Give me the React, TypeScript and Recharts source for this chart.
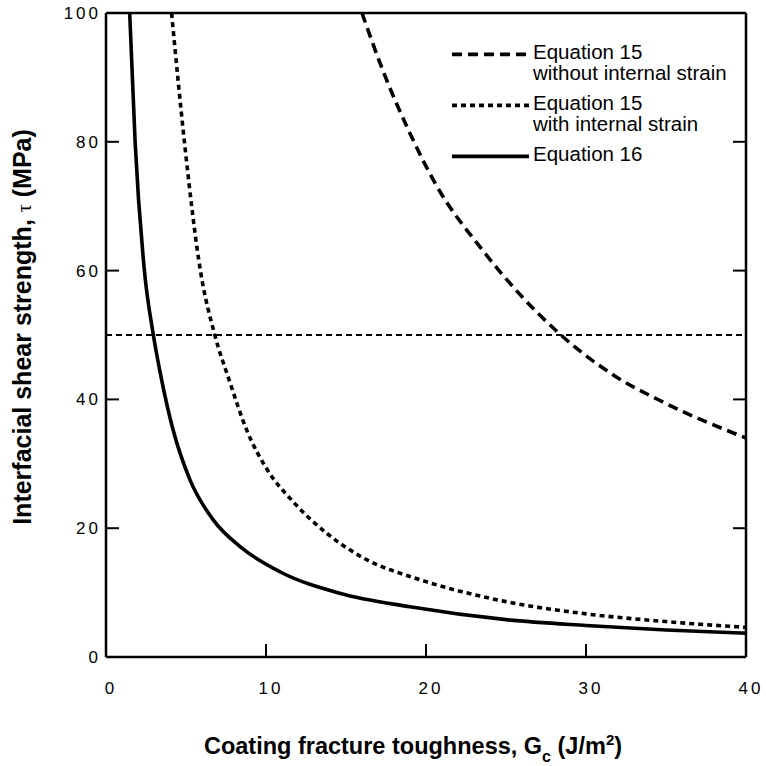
import React from "react";
import { LineChart, Line, XAxis, YAxis, ReferenceLine, Legend, Label } from "recharts";

// values
const gTicks = [0, 10, 20, 30, 40];
const tauTicks = [0, 20, 40, 60, 80, 100];
const tauLimit = 50;

const eq15NoStrainG = [16.0, 17.3, 19.0, 20.7, 23.4, 28.3, 31.7, 34.8, 40];
const eq15NoStrainTau = [100, 91.1, 81.3, 73.0, 63.6, 50.3, 43.8, 39.6, 34.0];

const eq15StrainG = [4.1, 4.9, 5.9, 6.8, 7.7, 8.8, 10.1, 11.7, 13.8, 16.3, 19.0, 20, 25, 30, 35, 40];
const eq15StrainTau = [100, 80, 60, 50, 43, 35.2, 29.0, 24.1, 19.2, 15.1, 12.5, 11.7, 8.6, 6.7, 5.5, 4.6];

const eq16G = [1.48, 1.82, 2.4, 2.96, 3.48, 4.2, 5.25, 6.7, 8.4, 10.9, 14.6, 19.0, 25, 30, 35, 40];
const eq16Tau = [100, 80, 60, 50, 43.0, 35.2, 27.5, 21.3, 17.1, 13.2, 9.9, 7.8, 5.8, 4.9, 4.2, 3.7];

const toRows = (g: number[], tau: number[]) => g.map((v, i) => ({ g: v, tau: tau[i] }));

const FONT = "'Liberation Sans', Arial, Helvetica, sans-serif";
const TICK_LEN = 13;

const series = [
  { key: "noStrain", lines: ["Equation 15", "without internal strain"], data: toRows(eq15NoStrainG, eq15NoStrainTau), dash: "10 6", width: 3.6 },
  { key: "strain", lines: ["Equation 15", "with internal strain"], data: toRows(eq15StrainG, eq15StrainTau), dash: "5 4", width: 3.6 },
  { key: "eq16", lines: ["Equation 16"], data: toRows(eq16G, eq16Tau), dash: undefined, width: 3.6 },
];

const renderLegend = () => (
  <div style={{ fontFamily: FONT, fontSize: 20.5, lineHeight: "21px", color: "#000" }}>
    {series.map((s) => (
      <div key={s.key} style={{ display: "flex", alignItems: "flex-start", marginBottom: 9 }}>
        <svg width={77} height={21} style={{ marginRight: 4, flex: "none" }}>
          <line x1={0} x2={77} y1={13.4} y2={13.4} stroke="#000" strokeWidth={s.width} strokeDasharray={s.dash} />
        </svg>
        <div>
          {s.lines.map((t) => (
            <div key={t} style={{ whiteSpace: "nowrap" }}>{t}</div>
          ))}
        </div>
      </div>
    ))}
  </div>
);

// ticks point into the plot, labels sit outside
const BottomTick = ({ x, y, payload }: any) => (
  <g>
    <line x1={x} x2={x} y1={y} y2={y - TICK_LEN} stroke="#000" strokeWidth={2} />
    <text x={x + 5} y={y + 37} textAnchor="middle" fontFamily={FONT} fontSize={17} letterSpacing={3} fill="#000">
      {payload.value}
    </text>
  </g>
);

const LeftTick = ({ x, y, payload }: any) => (
  <g>
    <line x1={x} x2={x + TICK_LEN} y1={y} y2={y} stroke="#000" strokeWidth={2} />
    <text x={x - 5} y={y + 6} textAnchor="end" fontFamily={FONT} fontSize={17} letterSpacing={3} fill="#000">
      {payload.value}
    </text>
  </g>
);

const TopTick = ({ x, y }: any) => <line x1={x} x2={x} y1={y} y2={y + TICK_LEN} stroke="#000" strokeWidth={2} />;

const RightTick = ({ x, y }: any) => <line x1={x} x2={x - TICK_LEN} y1={y} y2={y} stroke="#000" strokeWidth={2} />;

const XTitle = (props: any) => {
  const { viewBox } = props;
  const cx = viewBox.x + viewBox.width / 2 - 13;
  const y = viewBox.y + 97;
  return (
    <text x={cx} y={y} textAnchor="middle" fontFamily={FONT} fontWeight="bold" fontSize={23.5} fill="#000">
      Coating fracture toughness, G
      <tspan dy={8} fontSize={16}>c</tspan>
      <tspan dy={-8}> (J/m</tspan>
      <tspan dy={-9} fontSize={15}>2</tspan>
      <tspan dy={9}>)</tspan>
    </text>
  );
};

const YTitle = (props: any) => {
  const { viewBox } = props;
  const x = 31;
  const cy = viewBox.y + viewBox.height / 2 - 8;
  return (
    <text x={x} y={cy} textAnchor="middle" transform={`rotate(-90, ${x}, ${cy})`} fontFamily={FONT} fontWeight="bold" fontSize={25} fill="#000">
      Interfacial shear strength, <tspan fontWeight="normal" fontSize={20} fontFamily="'Liberation Serif', serif">τ</tspan> (MPa)
    </text>
  );
};

const axisLine = { stroke: "#000", strokeWidth: 2.5 };

export default function App() {
  return (
    <div style={{ position: "absolute", left: 0, top: 0, background: "#fff" }}>
      <LineChart width={766} height={766} margin={{ top: 0, right: 0, bottom: 0, left: 0 }}>
        <XAxis
          dataKey="g"
          type="number"
          domain={[0, 40]}
          ticks={gTicks}
          interval={0}
          height={109}
          tickSize={0}
          tickMargin={0}
          axisLine={axisLine}
          tickLine={false}
          tick={BottomTick}
          label={<Label content={XTitle} />}
        />
        <XAxis
          xAxisId="top"
          orientation="top"
          type="number"
          domain={[0, 40]}
          ticks={gTicks}
          interval={0}
          allowDataOverflow
          height={13}
          tickSize={0}
          tickMargin={0}
          axisLine={axisLine}
          tickLine={false}
          tick={TopTick}
        />
        <YAxis
          type="number"
          domain={[0, 100]}
          ticks={tauTicks}
          interval={0}
          width={106}
          tickSize={0}
          tickMargin={0}
          axisLine={axisLine}
          tickLine={false}
          tick={LeftTick}
          label={<Label content={YTitle} />}
        />
        <YAxis
          yAxisId="right"
          orientation="right"
          type="number"
          domain={[0, 100]}
          ticks={tauTicks}
          interval={0}
          allowDataOverflow
          width={20}
          tickSize={0}
          tickMargin={0}
          axisLine={axisLine}
          tickLine={false}
          tick={RightTick}
        />
        <ReferenceLine y={tauLimit} stroke="#000" strokeWidth={2} strokeDasharray="6 4" />
        {series.map((s) => (
          <Line
            key={s.key}
            data={s.data}
            dataKey="tau"
            name={s.lines.join(" ")}
            type="monotone"
            stroke="#000"
            strokeWidth={s.width}
            strokeDasharray={s.dash}
            dot={false}
            activeDot={false}
            isAnimationActive={false}
          />
        ))}
        <Legend
          layout="vertical"
          align="center"
          verticalAlign="middle"
          content={renderLegend}
          wrapperStyle={{ left: 452, top: 41, width: "auto", height: "auto" }}
        />
      </LineChart>
    </div>
  );
}
